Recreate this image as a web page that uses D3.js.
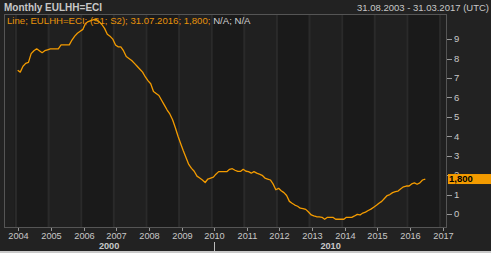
<!DOCTYPE html>
<html><head><meta charset="utf-8">
<script src="https://cdn.jsdelivr.net/npm/d3@7"></script>
<style>html,body{margin:0;padding:0;background:#222222;overflow:hidden}svg{display:block}</style>
</head><body><svg id="c" width="491" height="253"></svg>
<script>
const title = "Monthly EULHH=ECI";
const rangeText = "31.08.2003 - 31.03.2017 (UTC)";
const legendMain = "Line; EULHH=ECI; (S1; S2); 31.07.2016; 1,800;";
const legendNA = " N/A; N/A";
const lastLabel = "1,800";
const firstYear = 2004;   // first month = January 2004 (month-end values)
const values = [
  7.40, 7.30, 7.60, 7.75, 7.80, 8.25, 8.40, 8.50, 8.40, 8.30, 8.40, 8.45,
  8.50, 8.50, 8.50, 8.50, 8.70, 8.70, 8.70, 8.70, 8.95, 9.15, 9.30, 9.40,
  9.50, 9.80, 9.90, 9.95, 10.00, 10.00, 9.90, 9.75, 9.55, 9.25, 9.15, 9.00,
  8.70, 8.60, 8.60, 8.40, 8.10, 8.00, 7.90, 7.75, 7.60, 7.45, 7.30, 7.05,
  6.85, 6.70, 6.30, 6.20, 6.10, 5.85, 5.60, 5.35, 5.15, 4.85, 4.45, 4.00,
  3.60, 3.25, 2.90, 2.55, 2.35, 2.20, 1.95, 1.85, 1.75, 1.62, 1.80, 1.85,
  1.90, 2.05, 2.18, 2.18, 2.18, 2.18, 2.30, 2.33, 2.25, 2.19, 2.19, 2.30,
  2.20, 2.18, 2.10, 2.18, 2.10, 2.05, 1.99, 1.85, 1.80, 1.75, 1.55, 1.25,
  1.32, 1.20, 1.10, 0.95, 0.65, 0.55, 0.46, 0.40, 0.30, 0.28, 0.24, 0.10,
  -0.05, -0.10, -0.14, -0.15, -0.17, -0.27, -0.17, -0.17, -0.17, -0.27, -0.27, -0.27,
  -0.27, -0.17, -0.17, -0.17, -0.10, -0.02, -0.05, 0.05, 0.10, 0.18, 0.25, 0.35,
  0.45, 0.55, 0.65, 0.80, 0.95, 1.00, 1.10, 1.15, 1.18, 1.30, 1.40, 1.44,
  1.44, 1.55, 1.60, 1.53, 1.60, 1.75, 1.80
];
const yTicks = [0,1,2,3,4,5,6,7,8,9];
const xTickYears = [2004,2005,2006,2007,2008,2009,2010,2011,2012,2013,2014,2015,2016,2017];
const bandYears = [2003,2004,2005,2006,2007,2008,2009,2010,2011,2012,2013,2014,2015,2016,2017];
const decadeLabels = ["2000","2010"];
const decadeBounds = [[null,2010],[2010,null]];
const domainStart = new Date(2003,7,31), domainEnd = new Date(2017,2,31);

const svg = d3.select("#c");
const L=4, T=14, R=447, B=228;
const x = d3.scaleTime().domain([domainStart, domainEnd]).range([L,R]);
const y = d3.scaleLinear().domain([-0.72,10.29]).range([B,T]);
const tickOff = 3.5;
const font = "'Liberation Sans', Arial, sans-serif";

svg.append("rect").attr("width",491).attr("height",253).attr("fill","#222222");
svg.append("rect").attr("x",0).attr("y",251).attr("width",491).attr("height",2).attr("fill","#c9c9c9");

// year bands
bandYears.forEach(Y=>{
  const x0=Math.max(L,x(new Date(Y,0,1))), x1=Math.min(R,x(new Date(Y+1,0,1)));
  svg.append("rect").attr("x",x0).attr("y",T).attr("width",x1-x0).attr("height",B-T)
    .attr("fill", Y%2===0 ? "#1a1a1a" : "#202020");
});
xTickYears.forEach(Y=>{
  svg.append("rect").attr("x",x(new Date(Y,0,1))).attr("y",T).attr("width",2).attr("height",B-T).attr("fill","#2a2a2a");
});
svg.append("rect").attr("x",L+0.5).attr("y",T+0.5).attr("width",R-L-1).attr("height",B-T-1)
  .attr("fill","none").attr("stroke","#555").attr("stroke-width",1);

// data
const data = values.map((v,i)=>({d:d3.timeDay.offset(new Date(firstYear,i+1,1),-1), v}));
svg.append("path").datum(data)
  .attr("d", d3.line().x(d=>x(d.d)).y(d=>y(d.v)))
  .attr("fill","none").attr("stroke","#f39b00").attr("stroke-width",1.3).attr("stroke-linejoin","round");

// y axis (right)
const ya = svg.append("g");
yTicks.forEach(t=>{
  ya.append("line").attr("x1",R).attr("x2",R+5).attr("y1",Math.round(y(t))+0.5).attr("y2",Math.round(y(t))+0.5).attr("stroke","#999");
  ya.append("text").attr("x",R+7).attr("y",y(t)).attr("dy","0.35em").attr("fill","#c8c8c8")
    .attr("font-family",font).attr("font-size",9.5).text(t);
});

// x axis
xTickYears.forEach(Y=>{
  const xx = Math.round(x(new Date(Y,0,1))+tickOff)+0.5;
  svg.append("line").attr("x1",xx).attr("x2",xx).attr("y1",B).attr("y2",B+3).attr("stroke","#999");
  svg.append("text").attr("x",xx).attr("y",239).attr("text-anchor","middle").attr("fill","#c8c8c8")
    .attr("font-family",font).attr("font-size",9.2).text(Y);
});
decadeLabels.forEach((lab,i)=>{
  const a = decadeBounds[i][0]===null ? L : x(new Date(decadeBounds[i][0],0,1))+tickOff;
  const b = decadeBounds[i][1]===null ? R : x(new Date(decadeBounds[i][1],0,1))+tickOff;
  svg.append("text").attr("x",(a+b)/2).attr("y",249).attr("text-anchor","middle").attr("fill","#c8c8c8")
    .attr("font-family",font).attr("font-weight","bold").attr("font-size",9.2).text(lab);
});
const dx = Math.round(x(new Date(2010,0,1))+tickOff)+0.5;
svg.append("line").attr("x1",dx).attr("x2",dx).attr("y1",242).attr("y2",251).attr("stroke","#bbb");

// last value label
const lv = values[values.length-1];
svg.append("rect").attr("x",R+1).attr("y",y(lv)-5).attr("width",491-R-1).attr("height",10).attr("fill","#f39b00");
svg.append("text").attr("x",R+2).attr("y",y(lv)).attr("dy","0.36em").attr("fill","#000")
  .attr("font-family",font).attr("font-weight","bold").attr("font-size",9.5).text(lastLabel);

// titles
svg.append("text").attr("x",4).attr("y",11).attr("fill","#c8c8c8").attr("font-family",font)
  .attr("font-weight","bold").attr("font-size",10).text(title);
svg.append("text").attr("x",489).attr("y",11).attr("text-anchor","end").attr("fill","#c8c8c8")
  .attr("font-family",font).attr("font-size",9.5).text(rangeText);
const lg = svg.append("text").attr("x",7).attr("y",24).attr("font-family",font).attr("font-size",9.6);
lg.append("tspan").attr("fill","#e8930a").text(legendMain);
lg.append("tspan").attr("fill","#d0d0d0").text(legendNA);
</script></body></html>
